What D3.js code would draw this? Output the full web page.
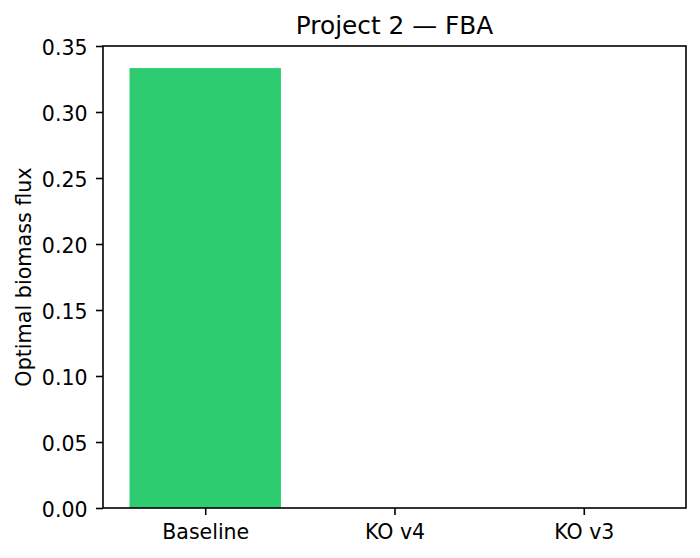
<!DOCTYPE html>
<html>
<head>
<meta charset="utf-8">
<script src="https://cdn.jsdelivr.net/npm/d3@7"></script>
<style>
  body { margin: 0; background: #fff; }
  text { font-family: "DejaVu Sans", sans-serif; fill: #000; }
</style>
</head>
<body>
<div id="root"></div>
<script>
// chart data
const categories = ['Baseline', 'KO v4', 'KO v3']
const fluxValues = [0.3333, 0, 0]
const yTicks = [0, 0.05, 0.10, 0.15, 0.20, 0.25, 0.30, 0.35]

const W = 700, H = 558
const mLeft = 103, mRight = 686, mTop = 46, mBottom = 508
const tickFont = 20.5

const svg = d3.select('#root')
    .append('svg')
    .attr('width', W)
    .attr('height', H)

// matplotlib-like x range: bars of width 0.8 with 5% margins
const x = d3.scaleLinear().domain([-0.54, 2.54]).range([mLeft, mRight])
const y = d3.scaleLinear().domain([0, 0.35]).range([mBottom, mTop])

svg.selectAll('.bar')
    .data(fluxValues)
    .enter()
    .append('rect')
    .attr('class', 'bar')
    .attr('x', (d, i) => x(i - 0.4))
    .attr('width', (d, i) => x(i + 0.4) - x(i - 0.4))
    .attr('y', d => y(d))
    .attr('height', d => y(0) - y(d))
    .attr('fill', '#2ecc71')

// y axis
const yAxis = d3.axisLeft(y)
    .tickValues(yTicks)
    .tickFormat(d3.format('.2f'))
    .tickSize(7)
    .tickPadding(8.5)
svg.append('g')
    .attr('transform', `translate(${mLeft},0)`)
    .call(yAxis)
    .call(g => g.select('.domain').remove())
    .call(g => g.selectAll('line').attr('stroke', '#000').attr('stroke-width', 1.6))
    .call(g => g.selectAll('text')
        .attr('font-size', tickFont)
        .attr('font-family', 'DejaVu Sans')
        .attr('fill', '#000')
        .attr('dy', '0.4em'))

// x axis
const xAxis = d3.axisBottom(x)
    .tickValues(d3.range(categories.length))
    .tickFormat(i => categories[i])
    .tickSize(7)
    .tickPadding(9)
svg.append('g')
    .attr('transform', `translate(0,${mBottom})`)
    .call(xAxis)
    .call(g => g.select('.domain').remove())
    .call(g => g.selectAll('line').attr('stroke', '#000').attr('stroke-width', 1.6))
    .call(g => g.selectAll('text')
        .attr('font-size', tickFont)
        .attr('font-family', 'DejaVu Sans')
        .attr('fill', '#000'))

// frame
svg.append('rect')
    .attr('x', mLeft)
    .attr('y', mTop)
    .attr('width', mRight - mLeft)
    .attr('height', mBottom - mTop)
    .attr('fill', 'none')
    .attr('stroke', '#000')
    .attr('stroke-width', 1.6)

// title and label
svg.append('text')
    .attr('x', (mLeft + mRight) / 2)
    .attr('y', 34)
    .attr('text-anchor', 'middle')
    .attr('font-size', 24.8)
    .text('Project 2 — FBA')

svg.append('text')
    .attr('transform', `translate(24,${(mTop + mBottom) / 2}) rotate(-90)`)
    .attr('text-anchor', 'middle')
    .attr('dominant-baseline', 'central')
    .attr('font-size', 20.7)
    .text('Optimal biomass flux')
</script>
</body>
</html>
